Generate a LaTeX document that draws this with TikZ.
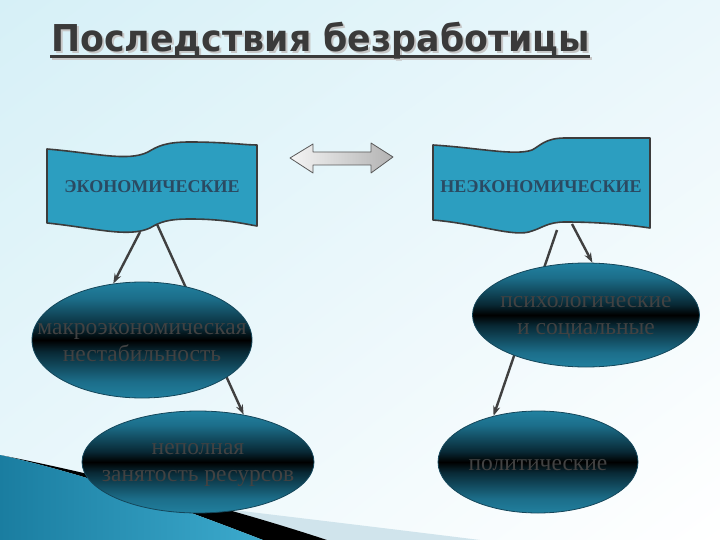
\documentclass[tikz,border=0pt]{standalone}
\usepackage{fontspec}
\setmainfont{Liberation Serif}
\newfontfamily\titlefont[FakeStretch=0.94]{DejaVu Sans}
\usetikzlibrary{arrows.meta,shapes.geometric,shadings}
\definecolor{bgcyan}{RGB}{214,240,247}
\definecolor{bgmid}{RGB}{234,247,251}
\definecolor{bannerfill}{RGB}{44,158,192}
\definecolor{bannerline}{RGB}{60,60,60}
\definecolor{bannertext}{RGB}{42,74,98}
\definecolor{ellteal}{RGB}{42,160,196}
\definecolor{ellmid}{RGB}{28,110,138}
\definecolor{elldark}{RGB}{8,40,52}
\definecolor{ellline}{RGB}{20,70,90}
\definecolor{elltext}{RGB}{66,66,66}
\definecolor{connector}{RGB}{64,64,64}
\definecolor{titlegray}{RGB}{58,58,58}
\definecolor{swooshA}{RGB}{26,125,160}
\definecolor{swooshB}{RGB}{60,170,205}
\definecolor{swooshlight}{RGB}{208,228,236}
\pgfdeclareverticalshading{mirrorsh}{100bp}{color(0bp)=(ellteal); color(12bp)=(ellteal); color(32bp)=(ellmid); color(45bp)=(elldark); color(50bp)=(black); color(55bp)=(elldark); color(68bp)=(ellmid); color(86bp)=(ellteal); color(100bp)=(ellteal)}
\pgfdeclarelayer{back}
\pgfdeclarelayer{mid}
\pgfsetlayers{back,mid,main}
\tikzset{
  ell/.style={ellipse, inner sep=0pt, draw=ellline, line width=0.8pt, shading=mirrorsh},
  elltxt/.style={align=center, text=elltext, font=\fontsize{23.5}{27}\selectfont, inner sep=0pt},
  banner/.style={fill=bannerfill, draw=bannerline, line width=1.6pt, line join=round},
  bannertxt/.style={text=bannertext, font=\bfseries\fontsize{18}{20}\selectfont, inner sep=0pt},
  conn/.style={draw=connector, line width=2.4pt, -{Stealth[length=10pt,width=7pt]}},
  titletxt/.style={anchor=base west, font=\titlefont\bfseries\fontsize{37}{42}\selectfont, inner sep=0pt},
}
\begin{document}
\begin{tikzpicture}[x=1pt,y=-1pt]
\useasboundingbox (0,0) rectangle (720,540);
\begin{pgfonlayer}{back}
\shade[upper left=bgcyan, upper right=bgmid, lower left=bgmid, lower right=white] (0,0) rectangle (720,540);
\fill[swooshlight] (200,506) .. controls (300,518) and (400,530) .. (480,540) -- (327,540) .. controls (260,518) and (200,505) .. (150,494) -- cycle;
\fill[black] (20,459) .. controls (120,480) and (230,508) .. (327,540) -- (263,540) .. controls (180,508) and (90,475) .. (0,455) -- cycle;
\shade[left color=swooshA, right color=swooshB] (0,455) .. controls (90,475) and (180,508) .. (263,540) -- (0,540) -- cycle;
% title shadow
\node[titletxt, text=gray!45] (titleshadow) at (53,54) {Последствия безработицы};
\draw[gray!45, line width=3pt] (52,58.5) -- (592,58.5);
\end{pgfonlayer}
% title
\node[titletxt, text=titlegray] (title) at (51,52) {Последствия безработицы};
\draw[titlegray, line width=3pt] (50,56.5) -- (590,56.5);
% ellipses
\node[ell, minimum width=220pt, minimum height=116pt] (e1) at (142,340) {};
\node[ell, minimum width=227pt, minimum height=104pt] (e2) at (586,315) {};
\node[ell, minimum width=232pt, minimum height=102pt] (e3) at (198,462) {};
\node[ell, minimum width=200pt, minimum height=102pt] (e4) at (538,462) {};
\node[elltxt] (t1) at ([yshift=-3pt]e1.center) {макроэкономическая\\нестабильность};
\node[elltxt] (t2) at ([yshift=-3pt]e2.center) {психологические\\и социальные};
\node[elltxt] (t3) at ([yshift=-3pt]e3.center) {неполная\\занятость ресурсов};
\node[elltxt] (t4) at ([yshift=-3pt]e4.center) {политические};
% banners and connectors
\begin{pgfonlayer}{mid}
\coordinate (b1a) at (140,232);
\coordinate (b1b) at (156,222);
\coordinate (b2a) at (557,230);
\coordinate (b2b) at (572,224);
\draw[conn] (b1a) -- (e1.117);
\draw[conn] (b1b) -- (e3.46);
\draw[conn] (b2b) -- (e2.83);
\draw[conn] (b2a) -- (e4.134);
\draw[banner] (47,149) .. controls (95,153) and (128,162) .. (148,152) .. controls (158,146) and (166,142) .. (190,142) .. controls (225,142) and (245,145) .. (257,145) -- (257,226) .. controls (245,224) and (225,219) .. (190,219) .. controls (168,219) and (160,222) .. (150,228) .. controls (128,238) and (95,228) .. (47,223) -- cycle;
\draw[banner] (433,145) .. controls (480,148) and (515,156) .. (532,150) .. controls (540,146) and (545,138) .. (565,138) .. controls (600,138) and (630,138) .. (650,138) -- (650,228) .. controls (630,225) and (600,222) .. (565,222) .. controls (548,222) and (542,228) .. (532,231) .. controls (515,238) and (480,224) .. (433,220) -- cycle;
\end{pgfonlayer}
\node[bannertxt] (econ) at (152,187) {ЭКОНОМИЧЕСКИЕ};
\node[bannertxt] (nonecon) at (541,187) {НЕЭКОНОМИЧЕСКИЕ};
% double arrow
\shade[left color=gray!8, right color=gray!60, draw=gray!70!black, line width=0.8pt, line join=round]
  (290,158) -- (313,144) -- (313,152) -- (371,152) -- (371,143) -- (393,157) -- (371,173) -- (371,165) -- (313,165) -- (313,173) -- cycle;
\end{tikzpicture}
\end{document}
